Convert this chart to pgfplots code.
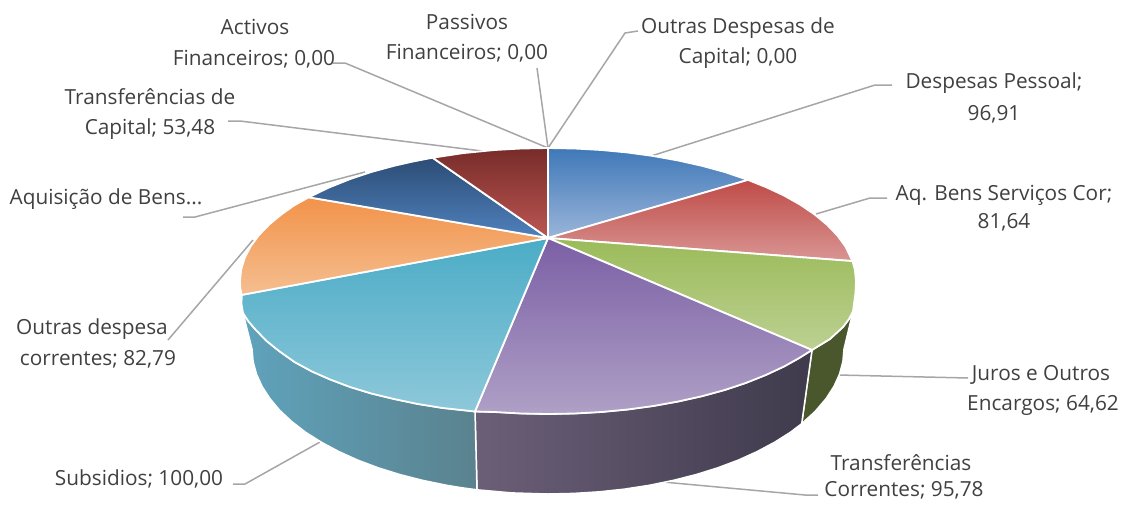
\documentclass[border=0pt]{standalone}
\usepackage{pgfplots}
\pgfplotsset{compat=1.18}
\usepackage{fontspec}
\setmainfont{Open Sans}
\definecolor{txt}{HTML}{404040}
\definecolor{lead}{HTML}{A6A6A6}
\definecolor{sg}{HTML}{4A572D}
\definecolor{spa}{HTML}{6B5F78}
\definecolor{spb}{HTML}{4C4559}
\definecolor{spc}{HTML}{3F3A4C}
\definecolor{sta}{HTML}{5FA3BC}
\definecolor{stb}{HTML}{6495A6}
\definecolor{stc}{HTML}{5A828E}
\definecolor{ba}{HTML}{3F78B8}\definecolor{bb}{HTML}{9AB5D9}
\definecolor{ra}{HTML}{BF4B47}\definecolor{rb}{HTML}{D99694}
\definecolor{ga}{HTML}{9BBB59}\definecolor{gb}{HTML}{BCD092}
\definecolor{pa}{HTML}{7B5FA5}\definecolor{pb}{HTML}{AFA0C6}
\definecolor{ta}{HTML}{4BACC6}\definecolor{tb}{HTML}{8EC8DA}
\definecolor{oa}{HTML}{F2934A}\definecolor{ob}{HTML}{F5BE90}
\definecolor{da}{HTML}{2C4D75}\definecolor{db}{HTML}{4F81BD}
\definecolor{ea}{HTML}{772C2A}\definecolor{eb}{HTML}{BC5652}
\newcommand{\lab}[3]{\node[anchor=mid,inner sep=0pt,yshift=-5pt,text=txt,font=\fontsize{20.8}{22}\selectfont] at (axis cs:#1,#2) {#3};}
\begin{document}
\begin{tikzpicture}
\begin{axis}[at={(0,0)},anchor=south west,width=1124pt,height=504pt,scale only axis,
  xmin=0,xmax=1124,ymin=0,ymax=504,y dir=reverse,hide axis,clip=false,no markers]
\path (axis cs:0,0) -- (axis cs:1124,504);
% leader lines
\addplot[lead,line width=1.5pt] coordinates {(333,63)(345,63)(548,148)};
\addplot[lead,line width=1.5pt] coordinates {(537,68)(548,148)};
\addplot[lead,line width=1.5pt] coordinates {(638,31)(625,33)(548,148)};
\addplot[lead,line width=1.5pt] coordinates {(892,85)(875,85)(648,157)};
\addplot[lead,line width=1.5pt] coordinates {(887,198)(870,198)(816,214)};
\addplot[lead,line width=1.5pt] coordinates {(968,378)(838,375)};
\addplot[lead,line width=1.5pt] coordinates {(818,495)(805,495)(663,482)};
\addplot[lead,line width=1.5pt] coordinates {(233,484)(245,484)(320,442)};
\addplot[lead,line width=1.5pt] coordinates {(168,340)(253,240)};
\addplot[lead,line width=1.5pt] coordinates {(183,217)(195,217)(365,172)};
\addplot[lead,line width=1.5pt] coordinates {(228,121)(240,121)(490,152)};
% sides
\addplot[draw=white,line width=1.5pt,left color=sg,right color=sg] coordinates {
 (853,311.5)(849,319)(843,327)(830,339)(812,350)(801.7,423.7)(815.2,411.4)(826.1,398.6)(833.9,386.5)(839.5,374.2)(842.9,361.6)(844,349)} --cycle;
\addplot[draw=white,line width=1.5pt,left color=spa,middle color=spb,right color=spc] coordinates {
 (812,350)(798.7,358.3)(784,366.5)(765.8,375)(746,382.9)(724.7,390)(702,396.2)(678.2,401.5)(653.3,406)(627.7,409.5)(601.5,412)(574.8,413.5)(548,414)(521.2,413.5)(494.5,412)(475,411.5)
 (477,489.8)(511.9,492.9)(548,494)(573.8,493.4)(599.4,491.8)(624.6,489.1)(649.2,485.3)(673.1,480.4)(696,474.6)(717.8,467.8)(738.3,460.1)(757.3,451.5)(774.7,442.2)(790.5,432.2)(801.7,423.7)} --cycle;
\addplot[draw=white,line width=1.5pt,left color=sta,middle color=stb,right color=stc] coordinates {
 (475,411.5)(442.7,408)(417.8,404)(394,399)(371.3,393.5)(350,387)(330.2,379.5)(312,371.5)(294.5,362)(279,351)(266,340.5)(255,329)(248.5,321.5)(243,313)
 (252,349)(253.1,361.6)(256.5,374.2)(262.1,386.5)(269.9,398.6)(279.7,410.3)(291.7,421.5)(305.5,432.2)(321.3,442.2)(338.7,451.5)(357.7,460.1)(378.2,467.8)(400,474.6)(422.9,480.4)(446.8,485.3)(461.4,487.7)(477,489.8)} --cycle;
% top surface
\addplot[draw=white,line width=1.8pt,top color=ba,bottom color=bb] coordinates {
 (548,238)(548,148)(574.8,148.5)(601.5,150)(627.7,152.5)(653.3,156)(678.2,160.5)(702,165.8)(724.7,172)(748,179.9)} --cycle;
\addplot[draw=white,line width=1.8pt,top color=ra,bottom color=rb] coordinates {
 (548,238)(748,179.9)(765.8,187)(784,195.5)(800.3,204.7)(814.7,214.5)(827.1,224.8)(837.4,235.5)(845.5,246.6)(852.5,261.1)} --cycle;
\addplot[draw=white,line width=1.8pt,top color=ga,bottom color=gb] coordinates {
 (548,238)(852.5,261.1)(854.8,269.4)(856,281)(855.5,292.6)(854,304)(853,311.5)(849,319)(843,327)(830,339)(812,350)} --cycle;
\addplot[draw=white,line width=1.8pt,top color=pa,bottom color=pb] coordinates {
 (548,238)(812,350)(798.7,358.3)(784,366.5)(765.8,375)(746,382.9)(724.7,390)(702,396.2)(678.2,401.5)(653.3,406)(627.7,409.5)(601.5,412)(574.8,413.5)(548,414)(521.2,413.5)(494.5,412)(475,411.5)} --cycle;
\addplot[draw=white,line width=1.8pt,top color=ta,bottom color=tb] coordinates {
 (548,238)(475,411.5)(442.7,408)(417.8,404)(394,399)(371.3,393.5)(350,387)(330.2,379.5)(312,371.5)(294.5,362)(279,351)(266,340.5)(255,329)(248.5,321.5)(243,313)(241.5,304)(241.7,294.9)} --cycle;
\addplot[draw=white,line width=1.8pt,top color=oa,bottom color=ob] coordinates {
 (548,238)(241.7,294.9)(240.2,288)(240,281)(241.2,269.4)(244.7,257.9)(250.5,246.6)(258.6,235.5)(268.9,224.8)(281.3,214.5)(294,205.5)(308.7,197.3)} --cycle;
\addplot[draw=white,line width=1.8pt,top color=da,bottom color=db] coordinates {
 (548,238)(308.7,197.3)(328.3,187.8)(350,179.1)(371.3,172)(394,165.8)(413,161.5)(432.6,157.7)} --cycle;
\addplot[draw=white,line width=1.8pt,top color=ea,bottom color=eb] coordinates {
 (548,238)(432.6,157.7)(463.1,153.1)(494.5,150)(521.2,148.5)(548,148)} --cycle;
% labels
\lab{255}{27}{Activos}
\lab{254}{58}{Financeiros; 0,00}
\lab{467}{22}{Passivos}
\lab{467}{52}{Financeiros; 0,00}
\lab{738}{26}{Outras Despesas de}
\lab{738}{56}{Capital; 0,00}
\lab{994}{81}{Despesas Pessoal;}
\lab{994}{113}{96,91}
\lab{1004}{193}{Aq. Bens Serviços Cor;}
\lab{1004}{221}{81,64}
\lab{1041}{373}{Juros e Outros}
\lab{1043}{403}{Encargos; 64,62}
\lab{901}{463}{Transferências}
\lab{904}{489}{Correntes; 95,78}
\lab{139}{478}{Subsidios; 100,00}
\lab{92}{327}{Outras despesa}
\lab{98}{358}{correntes; 82,79}
\lab{106}{197}{Aquisição de Bens...}
\lab{150}{97}{Transferências de}
\lab{150}{127}{Capital; 53,48}
\end{axis}
\end{tikzpicture}
\end{document}
